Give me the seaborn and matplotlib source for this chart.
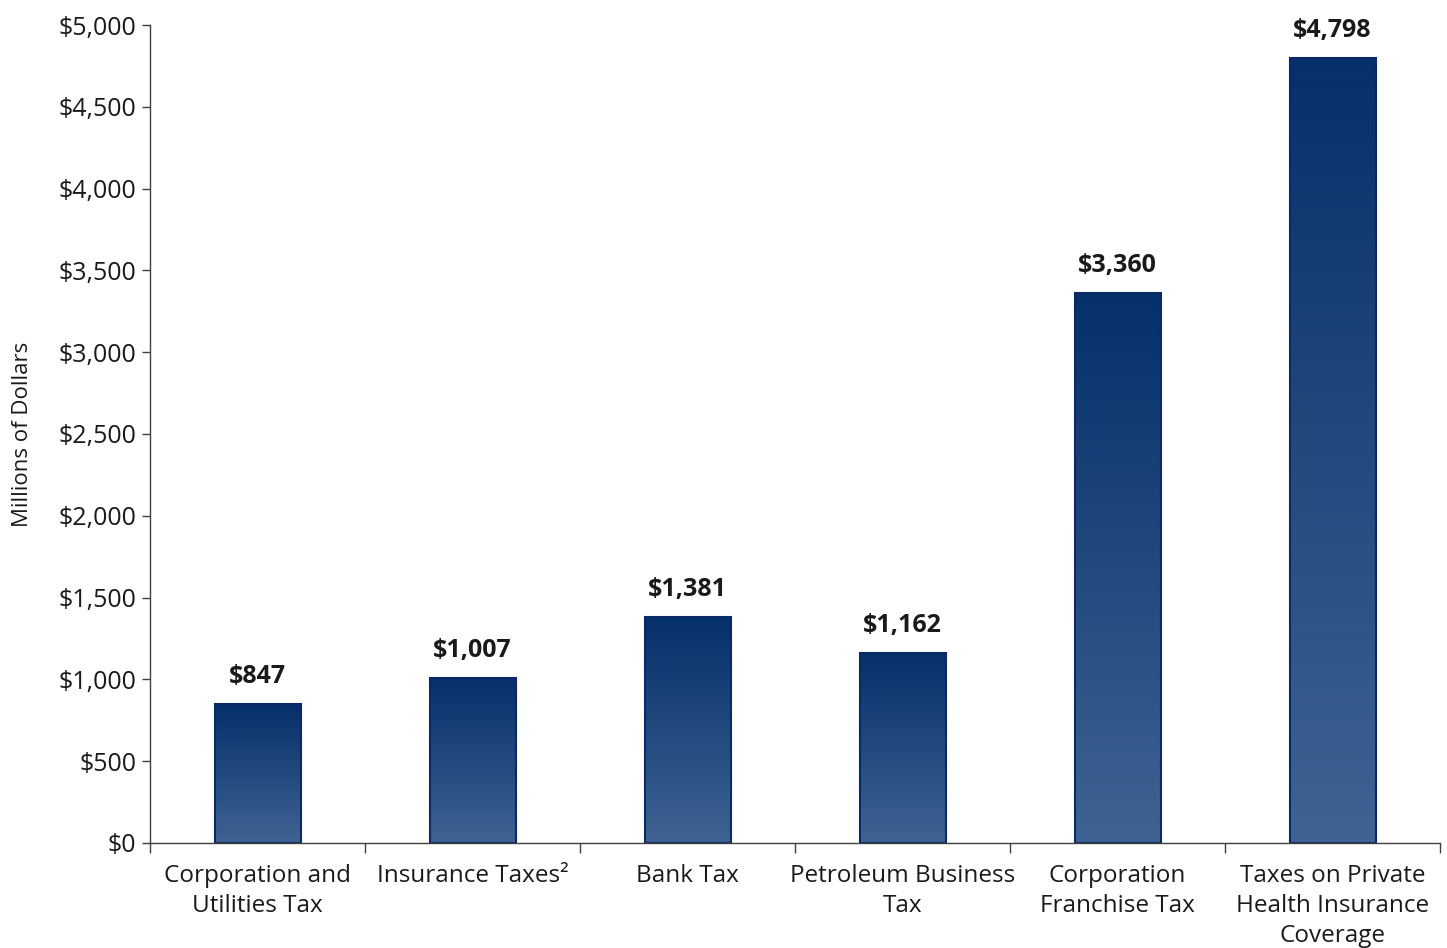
import matplotlib
matplotlib.use("Agg")
import matplotlib.pyplot as plt
import seaborn as sns
import numpy as np
import pandas as pd
from matplotlib.colors import LinearSegmentedColormap
from matplotlib.ticker import FuncFormatter, FixedLocator

categories = ["Corporation and\nUtilities Tax", "Insurance Taxes\u00b2", "Bank Tax",
              "Petroleum Business\nTax", "Corporation\nFranchise Tax",
              "Taxes on Private\nHealth Insurance\nCoverage"]
values = [847, 1007, 1381, 1162, 3360, 4798]
value_labels = ["$847", "$1,007", "$1,381", "$1,162", "$3,360", "$4,798"]
yticks = [0, 500, 1000, 1500, 2000, 2500, 3000, 3500, 4000, 4500, 5000]

sns.set_theme(style="white")
plt.rcParams['font.family'] = ['Open Sans', 'DejaVu Sans']

df = pd.DataFrame({"cat": categories, "val": values})

fig = plt.figure(figsize=(14.47, 9.48), dpi=100)
ax = fig.add_axes([150/1447, 1 - 843/948, 1290/1447, (843-25)/948])

sns.barplot(data=df, x="cat", y="val", ax=ax, width=0.40, color="#1a3f78",
            edgecolor="#0b2a63", linewidth=1.5, saturation=1)

ax.set_ylim(0, 5000)
ax.set_xlim(-0.5, len(categories) - 0.5)

cmap = LinearSegmentedColormap.from_list("g", ["#3f6392", "#05306b"])
grad = np.linspace(0, 1, 256).reshape(-1, 1)
for p in ax.patches:
    x0, y0 = p.get_x(), p.get_y()
    w, h = p.get_width(), p.get_height()
    im = ax.imshow(grad, cmap=cmap, origin="lower", aspect="auto",
                   extent=[x0, x0 + w, y0, y0 + h], zorder=p.get_zorder() + 0.1)
    im.set_clip_path(p)
    p.set_facecolor("none")
    p.set_zorder(p.get_zorder() + 0.2)

for i, (v, lab) in enumerate(zip(values, value_labels)):
    ax.annotate(lab, (i, v), xytext=(0, 11), textcoords="offset points",
                ha="center", va="bottom", fontsize=18, fontweight="bold",
                color="#1a1a1a")

ax.yaxis.set_major_locator(FixedLocator(yticks))
ax.yaxis.set_major_formatter(FuncFormatter(lambda v, p: f"${v:,.0f}"))
ax.tick_params(axis="y", which="major", direction="out", length=6, width=1,
               color="#404040", labelsize=18, labelcolor="#1a1a1a", left=True, pad=4)

ax.set_xticks(range(len(categories)))
ax.set_xticklabels(categories, fontsize=17.5, color="#1a1a1a", linespacing=1.35)
ax.tick_params(axis="x", which="major", length=0, pad=15)
ax.set_xticks(np.arange(-0.5, len(categories)), minor=True)
ax.tick_params(axis="x", which="minor", direction="out", length=7, width=1,
               color="#404040", bottom=True)

ax.set_xlabel("")
ax.set_ylabel("Millions of Dollars", fontsize=16, color="#1a1a1a", labelpad=18)

for s in ["top", "right"]:
    ax.spines[s].set_visible(False)
for s in ["left", "bottom"]:
    ax.spines[s].set_color("#404040")
    ax.spines[s].set_linewidth(1)

fig.savefig("out.png", dpi=100)
